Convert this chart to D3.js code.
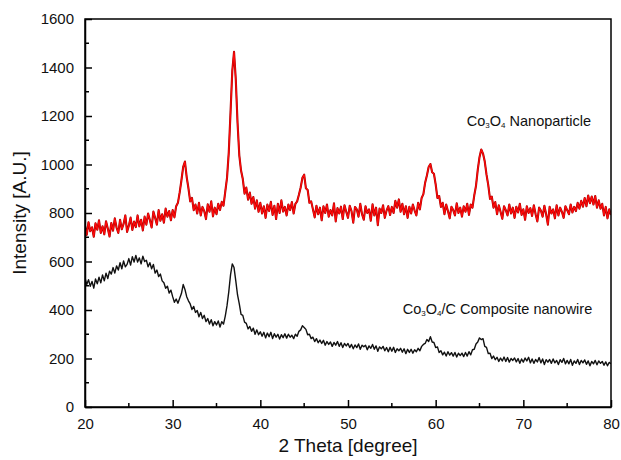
<!DOCTYPE html>
<html>
<head>
  <meta charset="utf-8">
  <title>XRD</title>
  <script src="https://d3js.org/d3.v7.min.js"></script>
  <style>
    body { margin: 0; background: #fff; }
    svg { font-family: Arial, "Liberation Sans", sans-serif; }
    .axis path, .axis line { stroke: #000; stroke-width: 1.5px; }
    .axis text { font-size: 15px; fill: #111; }
    .trace { fill: none; stroke-linejoin: round; }
  </style>
</head>
<body>
<svg width="621" height="460"></svg>
<script>
// 2 theta grid (start, step) and intensity readings taken from the figure, 5 per degree
var thetaStart = 20, thetaStep = 0.2;

var nanoparticle = [
  748,710,762,725,741, 702,758,731,770,718, 745,712,766,736,703, 759,727,778,740,718,
  772,733,755,790,722, 748,781,730,765,742, 790,745,772,728,785, 752,798,771,740,806,
  780,752,812,768,795, 760,818,785,808,770, 812,782,828,842,885, 935,990,1012,948,902,
  848,862,812,835,798, 842,790,825,808,775, 836,805,848,786,822, 795,838,812,846,830,
  888,945,1050,1215,1385, 1465,1350,1172,1038,975, 940,880,905,855,884, 838,866,818,852,805,
  842,798,828,780,835, 808,846,792,830,775, 838,800,852,806,825, 790,835,812,845,798,
  838,848,875,905,945, 958,902,895,842,848, 815,782,830,795,822, 770,828,800,835,785,
  812,790,840,765,820, 798,826,775,832,805, 780,830,808,760,825, 815,785,838,795,772,
  828,800,815,768,836, 790,822,750,818,800, 832,780,810,828,792, 825,800,850,822,856,
  805,838,795,828,780, 826,798,835,810,790, 842,815,862,878,925, 955,990,1002,968,962,
  918,862,870,825,842, 795,835,808,778,826, 812,790,840,800,822, 785,828,805,838,792,
  835,822,872,912,978, 1030,1062,1045,1012,958, 915,858,868,822,845, 795,832,805,776,828,
  812,790,835,798,822, 780,826,802,838,792, 815,772,828,800,820, 788,832,795,765,822,
  810,785,830,795,752, 826,798,815,778,832, 790,822,805,780,828, 812,795,835,802,825,
  808,842,818,850,826, 862,828,872,840,868, 835,870,822,852,818, 838,790,825,778,815,
  792
];

var composite = [
  532,505,525,498,518, 490,528,508,535,512, 545,520,552,530,560, 548,575,552,582,565,
  595,570,602,578,588, 612,585,620,598,625, 598,615,590,622,600, 605,578,595,570,588,
  552,565,538,548,520, 512,490,498,470,482, 455,432,445,428,448, 468,505,485,455,438,
  425,402,415,390,398, 372,390,365,378,352, 365,342,360,335,352, 338,355,330,352,342,
  375,418,475,545,590, 575,520,462,425,382, 378,350,345,322,332, 312,325,300,318,298,
  310,292,308,285,305, 290,308,282,302,288, 300,280,298,286,302, 284,300,288,296,282,
  300,292,312,318,335, 328,320,298,300,282, 288,270,282,265,276, 262,275,255,270,258,
  268,250,266,255,270, 250,265,245,262,252, 262,245,258,240,256, 245,260,238,255,248,
  255,236,252,242,258, 238,252,230,248,240, 250,232,245,228,246, 230,246,225,240,232,
  242,226,240,220,238, 225,238,222,236,228, 242,232,250,258,262, 278,270,290,268,266,
  245,248,225,232,215, 226,210,228,214,224, 210,225,206,222,212, 222,208,225,210,228,
  215,236,238,260,268, 285,278,282,250,246, 220,222,200,210,195, 205,188,202,190,206,
  188,204,185,200,192, 202,186,200,180,198, 185,202,190,205,182, 198,180,196,186,204,
  182,198,175,195,185, 196,180,198,182,192, 175,195,184,200,178, 192,178,196,172,190,
  180,196,175,192,182, 194,176,190,170,188, 178,192,174,190,180, 188,172,186,170,184,
  178
];

var xTicks = [20, 30, 40, 50, 60, 70, 80];
var yTicks = [0, 200, 400, 600, 800, 1000, 1200, 1400, 1600];

var svg = d3.select("svg"),
    margin = {top: 19, right: 10, bottom: 53, left: 85},
    width = +svg.attr("width") - margin.left - margin.right,
    height = +svg.attr("height") - margin.top - margin.bottom,
    g = svg.append("g").attr("transform", "translate(" + margin.left + "," + margin.top + ")");

var x = d3.scaleLinear().domain([20, 80]).range([0, width]),
    y = d3.scaleLinear().domain([0, 1600]).range([height, 0]);

function toPoints(vals) {
  return vals.map(function(v, i) { return {t: thetaStart + i * thetaStep, v: v}; });
}

var line = d3.line()
    .x(function(d) { return x(d.t); })
    .y(function(d) { return y(d.v); });

g.append("defs").append("clipPath").attr("id", "clip")
  .append("rect").attr("width", width).attr("height", height);

var plot = g.append("g").attr("clip-path", "url(#clip)");

plot.append("path")
    .attr("class", "trace")
    .attr("d", line(toPoints(composite)))
    .style("stroke", "#111")
    .style("stroke-width", 1.4);

plot.append("path")
    .attr("class", "trace")
    .attr("d", line(toPoints(nanoparticle)))
    .style("stroke", "#a50000")
    .style("stroke-width", 2.1);
plot.append("path")
    .attr("class", "trace")
    .attr("d", line(toPoints(nanoparticle)))
    .style("stroke", "#ff0a0a")
    .style("stroke-width", 1.2);

// minor ticks (inside)
var minorX = d3.range(25, 80, 10), minorY = d3.range(100, 1600, 200);
g.selectAll(".mx").data(minorX).enter().append("line")
    .attr("x1", function(d) { return x(d); }).attr("x2", function(d) { return x(d); })
    .attr("y1", height).attr("y2", height - 4)
    .attr("stroke", "#000").attr("stroke-width", 1.5);
g.selectAll(".my").data(minorY).enter().append("line")
    .attr("y1", function(d) { return y(d); }).attr("y2", function(d) { return y(d); })
    .attr("x1", 0).attr("x2", 4)
    .attr("stroke", "#000").attr("stroke-width", 1.5);

g.append("g")
    .attr("class", "axis")
    .attr("transform", "translate(0," + height + ")")
    .call(d3.axisBottom(x).tickValues(xTicks).tickFormat(d3.format("d"))
      .tickSizeInner(-7).tickSizeOuter(0).tickPadding(11));

g.append("g")
    .attr("class", "axis")
    .call(d3.axisLeft(y).tickValues(yTicks).tickFormat(d3.format("d"))
      .tickSizeInner(-7).tickSizeOuter(0).tickPadding(11));

// frame
g.append("rect")
    .attr("width", width).attr("height", height)
    .attr("fill", "none").attr("stroke", "#000").attr("stroke-width", 1.5);

// axis titles
svg.append("text")
    .attr("x", margin.left + width / 2).attr("y", 452)
    .attr("text-anchor", "middle")
    .style("font-size", "19px").style("fill", "#111")
    .text("2 Theta [degree]");

svg.append("text")
    .attr("transform", "translate(26," + (margin.top + height / 2) + ") rotate(-90)")
    .attr("text-anchor", "middle")
    .style("font-size", "19px").style("fill", "#111")
    .text("Intensity  [A.U.]");

// annotations with subscripts
function label(xv, yv, parts) {
  var t = g.append("text")
      .attr("x", x(xv)).attr("y", y(yv))
      .style("font-size", "14.5px").style("fill", "#111");
  parts.forEach(function(p) {
    var s = t.append("tspan").text(p[0]);
    if (p[1]) s.style("font-size", "8px").attr("dy", 2);
    else s.attr("dy", p[2] || 0);
  });
}
label(63.55, 1158, [["Co"], ["3", true], ["O", false, -2], ["4", true], [" Nanoparticle", false, -2]]);
label(56.25, 383, [["Co"], ["3", true], ["O", false, -2], ["4", true], ["/C Composite nanowire", false, -2]]);
</script>
</body>
</html>
